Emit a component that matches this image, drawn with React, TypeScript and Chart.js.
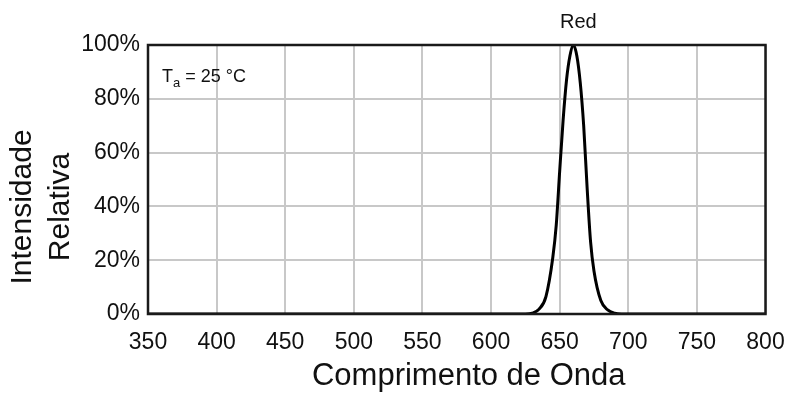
import React, { useEffect, useRef } from "react";
import { Chart, registerables } from "chart.js";

Chart.register(...registerables);

const FONT = "'Liberation Sans', Arial, Helvetica, sans-serif";

// Spectrum (nm, % relative intensity)
const wavelengths = [350, 600, 620, 625, 630, 635, 640, 645, 647.5, 650, 652.5, 655, 657.5, 660, 662.5, 665, 667.5, 670, 672.5, 675, 680, 685, 690, 695, 700, 800];
const intensity = [0, 0, 0, 0, 0.3, 1.8, 6.5, 21, 33, 53, 72, 87, 96, 100, 96, 86, 70, 47, 27, 16, 5, 1.5, 0.3, 0, 0, 0];

const xTicks = [350, 400, 450, 500, 550, 600, 650, 700, 750, 800];
const yTicks = [0, 20, 40, 60, 80, 100];

const xTitle = "Comprimento de Onda";
const yTitleLines = ["Intensidade", "Relativa"];
const peakLabel = "Red";
const peakWavelength = 660;
const tempSymbol = "T";
const tempSub = "a";
const tempValue = " = 25 °C";

const annotPlugin = {
  id: "annot",
  afterDraw(chart: any) {
    const { ctx, chartArea: a, scales } = chart;
    ctx.save();
    // frame
    ctx.strokeStyle = "#1a1a1a";
    ctx.lineWidth = 2.5;
    ctx.strokeRect(a.left, a.top, a.right - a.left, a.bottom - a.top);

    // peak label
    ctx.fillStyle = "#111";
    ctx.font = `20px ${FONT}`;
    ctx.textAlign = "center";
    ctx.textBaseline = "middle";
    ctx.fillText(peakLabel, scales.x.getPixelForValue(peakWavelength) + 5, 22);

    // temperature note
    ctx.textAlign = "left";
    ctx.textBaseline = "alphabetic";
    let tx = a.left + 14;
    ctx.font = `18px ${FONT}`;
    ctx.fillText(tempSymbol, tx, 82);
    tx += ctx.measureText(tempSymbol).width;
    ctx.font = `13px ${FONT}`;
    ctx.fillText(tempSub, tx, 87);
    tx += ctx.measureText(tempSub).width;
    ctx.font = `18px ${FONT}`;
    ctx.fillText(tempValue, tx, 82);

    // x title
    ctx.font = `31px ${FONT}`;
    ctx.textAlign = "center";
    ctx.textBaseline = "middle";
    ctx.fillText(xTitle, (a.left + a.right) / 2 + 12, 376);

    // y title
    ctx.font = `30px ${FONT}`;
    const xs = [23, 61];
    yTitleLines.forEach((line, i) => {
      ctx.save();
      ctx.translate(xs[i], 207);
      ctx.rotate(-Math.PI / 2);
      ctx.fillText(line, 0, 0);
      ctx.restore();
    });
    ctx.restore();
  },
};

export default function App() {
  const ref = useRef<HTMLCanvasElement>(null);
  useEffect(() => {
    if (!ref.current) return;
    const chart = new Chart(ref.current, {
      type: "line",
      data: {
        datasets: [
          {
            data: wavelengths.map((w, i) => ({ x: w, y: intensity[i] })),
            borderColor: "#000",
            borderWidth: 3,
            pointRadius: 0,
            cubicInterpolationMode: "monotone",
            fill: false,
          },
        ],
      },
      options: {
        animation: false,
        responsive: false,
        devicePixelRatio: 1,
        layout: { padding: { top: 45, right: 21.5, left: 0, bottom: 0 } },
        plugins: { legend: { display: false }, tooltip: { enabled: false } },
        scales: {
          x: {
            type: "linear",
            min: 350,
            max: 800,
            afterBuildTicks: (s: any) => {
              s.ticks = xTicks.map((v) => ({ value: v }));
            },
            afterFit: (s: any) => {
              s.height = 83;
              s.paddingLeft = 0;
              s.paddingRight = 0;
            },
            grid: { color: "#c8c8c8", lineWidth: 2, drawTicks: false },
            border: { display: false },
            ticks: {
              padding: 15,
              color: "#111",
              font: { family: FONT, size: 23 },
              maxRotation: 0,
            },
            title: { display: false },
          },
          y: {
            min: 0,
            max: 100,
            afterBuildTicks: (s: any) => {
              s.ticks = yTicks.map((v) => ({ value: v }));
            },
            afterFit: (s: any) => {
              s.width = 148;
              s.paddingTop = 0;
              s.paddingBottom = 0;
            },
            grid: { color: "#c8c8c8", lineWidth: 2, drawTicks: false },
            border: { display: false },
            ticks: {
              padding: 8,
              color: "#111",
              font: { family: FONT, size: 23 },
              callback: (v: any) => `${v}%`,
            },
          },
        },
      },
      plugins: [annotPlugin],
    } as any);
    return () => chart.destroy();
  }, []);
  return (
    <div style={{ position: "absolute", left: 0, top: 0, width: 787, height: 397, background: "#fff" }}>
      <canvas ref={ref} width={787} height={397} />
    </div>
  );
}
